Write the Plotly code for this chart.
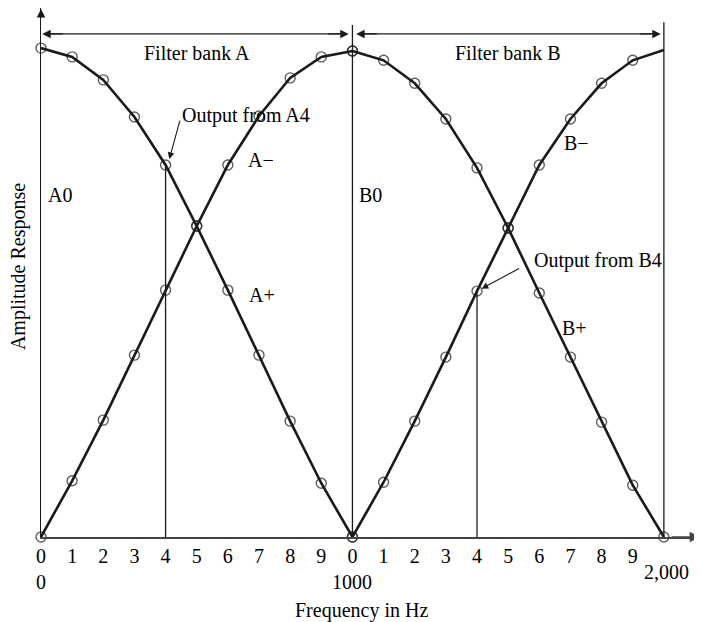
import plotly.graph_objects as go

# ---- data ----
freq_a = [0, 100, 200, 300, 400, 500, 600, 700, 800, 900, 1000]
freq_b = [1000, 1100, 1200, 1300, 1400, 1500, 1600, 1700, 1800, 1900, 2000]
a_plus = [1.0, 0.982, 0.935, 0.859, 0.761, 0.636, 0.505, 0.372, 0.237, 0.110, 0.0]
a_minus = [0.0, 0.115, 0.239, 0.372, 0.505, 0.636, 0.761, 0.861, 0.939, 0.982, 0.994]
b_plus = [0.994, 0.975, 0.928, 0.855, 0.755, 0.632, 0.499, 0.368, 0.235, 0.106, 0.0]
b_minus = [0.0, 0.112, 0.237, 0.368, 0.503, 0.632, 0.761, 0.855, 0.928, 0.975, 0.996]
tick_vals = [0, 100, 200, 300, 400, 500, 600, 700, 800, 900,
             1000, 1100, 1200, 1300, 1400, 1500, 1600, 1700, 1800, 1900]
tick_text = ["0", "1", "2", "3", "4", "5", "6", "7", "8", "9",
             "0", "1", "2", "3", "4", "5", "6", "7", "8", "9"]
band_edges = [0, 1000, 2000]
band_edge_text = ["0", "1000", "2,000"]
output_idx = 4  # A4 / B4

FONT = "Liberation Serif"
INK = "#1a1a1a"

fig = go.Figure()

def curve(x, y, name, last_marker=True):
    sizes = [10] * len(x)
    if not last_marker:
        sizes[-1] = 0
    fig.add_trace(go.Scatter(
        x=x, y=y, mode="lines+markers", name=name,
        line=dict(color=INK, width=2.6),
        marker=dict(symbol="circle-open", size=sizes, color=INK,
                    line=dict(width=1.4, color=INK)),
        cliponaxis=False, showlegend=False))

# vertical lines at outputs A4 and B4
fig.add_trace(go.Scatter(x=[freq_a[output_idx]] * 2, y=[0, a_plus[output_idx]],
                         mode="lines", line=dict(color=INK, width=1.3), showlegend=False))
fig.add_trace(go.Scatter(x=[freq_b[output_idx]] * 2, y=[0, b_minus[output_idx]],
                         mode="lines", line=dict(color=INK, width=1.3), showlegend=False))

curve(freq_a, a_plus, "A+")
curve(freq_a, a_minus, "A−")
curve(freq_b, b_plus, "B+")
curve(freq_b, b_minus, "B−", last_marker=False)

shapes = [
    dict(type="line", xref="x", yref="y", x0=1000, x1=1000, y0=0, y1=1.047,
         line=dict(color=INK, width=1.3)),
    dict(type="line", xref="x", yref="y", x0=2000, x1=2000, y0=0, y1=1.053,
         line=dict(color=INK, width=1.3)),
]

tf = dict(family=FONT, size=20, color="black")
ann = []

def text(x, y, s, xref="x", yref="y", xanchor="center", yanchor="middle", **kw):
    ann.append(dict(x=x, y=y, xref=xref, yref=yref, text=s, showarrow=False, font=tf,
                    xanchor=xanchor, yanchor=yanchor, **kw))

# double-headed arrows for filter banks: a line plus two arrowheads
bank_arrow_y = 1.029
for x0, x1 in [(4, 988), (1012, 1990)]:
    shapes.append(dict(type="line", xref="x", yref="y", x0=x0 + 20, x1=x1 - 20,
                       y0=bank_arrow_y, y1=bank_arrow_y, line=dict(color=INK, width=1.3)))
    for xe, off in [(x0, 22), (x1, -22)]:
        ann.append(dict(x=xe, y=bank_arrow_y, xref="x", yref="y", ax=off, ay=0,
                        axref="pixel", ayref="pixel", text="", showarrow=True, arrowhead=2,
                        arrowsize=1.3, arrowwidth=1.3, arrowcolor=INK, standoff=0))

# axis arrows
ann.append(dict(x=0, y=1.0057, xref="x", yref="paper", ax=0, ay=14, axref="pixel", ayref="pixel",
                text="", showarrow=True, arrowhead=2, arrowsize=1.3, arrowwidth=1.3,
                arrowcolor=INK, standoff=0))
ann.append(dict(x=1, y=0, xref="paper", yref="paper", ax=-30, ay=0, axref="pixel", ayref="pixel",
                text="", showarrow=True, arrowhead=2, arrowsize=1.3, arrowwidth=1.6,
                arrowcolor="#444", standoff=0))

text(501, 0.990, "Filter bank A")
text(1500, 0.990, "Filter bank B")
text(61, 0.699, "A0")
text(1059, 0.699, "B0")
text(706, 0.771, "A−")
text(709, 0.495, "A+")
text(1721, 0.806, "B−")
text(1714, 0.427, "B+")

# callouts
ann.append(dict(x=freq_a[output_idx] + 12, y=a_plus[output_idx] + 0.012, ax=11, ay=-40,
                xref="x", yref="y", axref="pixel", ayref="pixel", text="", showarrow=True,
                arrowhead=2, arrowsize=1.2, arrowwidth=1.1, arrowcolor=INK, standoff=0))
text(446, 0.863, "Output from A4", xanchor="left")
ann.append(dict(x=freq_b[output_idx] + 15, y=b_minus[output_idx] + 0.005, ax=39, ay=-21,
                xref="x", yref="y", axref="pixel", ayref="pixel", text="", showarrow=True,
                arrowhead=2, arrowsize=1.2, arrowwidth=1.1, arrowcolor=INK, standoff=0))
text(1576, 0.566, "Output from B4", xanchor="left")

# second row of frequency labels
for xv, s in zip(band_edges, band_edge_text):
    yp = -0.066 if s == "2,000" else -0.085
    xs = xv + 8 if s == "2,000" else xv
    text(xs, yp, s, yref="paper")

# axis titles
text(0.486, -0.138, "Frequency in Hz", xref="paper", yref="paper")
text(-0.035, 0.512, "Amplitude Response", xref="paper", yref="paper", textangle=-90)

fig.update_layout(
    width=694, height=614,
    margin=dict(l=33, r=2, t=0, b=85),
    paper_bgcolor="white", plot_bgcolor="white",
    shapes=shapes, annotations=ann,
    xaxis=dict(range=[0, 2116], tickvals=tick_vals, ticktext=tick_text, ticks="",
               showgrid=False, zeroline=False, showline=True, linecolor="#444", linewidth=2,
               tickfont=tf),
    yaxis=dict(range=[0, 1.082], showticklabels=False, ticks="", showgrid=False,
               zeroline=False, showline=True, linecolor=INK, linewidth=1.3),
)

fig.write_html("out.html")
